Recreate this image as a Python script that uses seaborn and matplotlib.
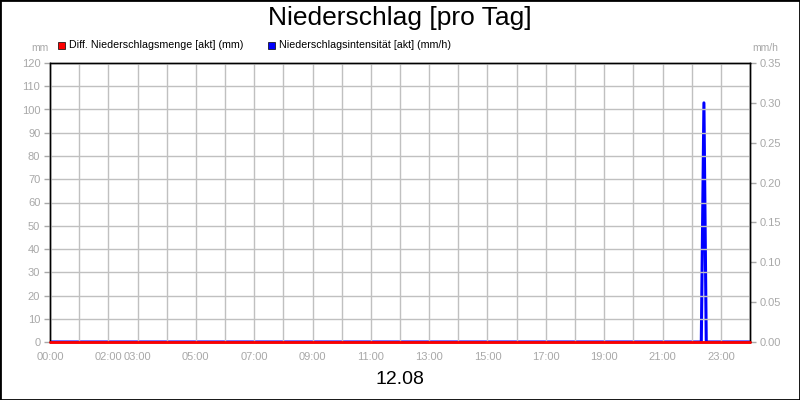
import numpy as np
import pandas as pd
import matplotlib
matplotlib.use("Agg")
import matplotlib.pyplot as plt
from matplotlib.patches import Rectangle
import seaborn as sns

# data, time in hours of the day
menge_time = [0.0, 24.0]
menge_mm = [0.0, 0.0]
int_time = [0.0, 22.33, 22.42, 22.5, 24.0]
int_mmh = [0.0, 0.0, 0.30, 0.0, 0.0]
tick_hours = [0, 2, 3, 5, 7, 9, 11, 13, 15, 17, 19, 21, 23]
tick_labels = ["00:00", "02:00", "03:00", "05:00", "07:00", "09:00", "11:00",
               "13:00", "15:00", "17:00", "19:00", "21:00", "23:00"]

sns.set_style("white")
plt.rcParams['font.family'] = ['Liberation Sans', 'DejaVu Sans']

grey = "#a8a8a8"
fig = plt.figure(figsize=(8, 4), dpi=100)
ax = fig.add_axes([50/800, 58/400, 700/800, 279/400])
ax2 = ax.twinx()

df_i = pd.DataFrame({"t": int_time, "v": int_mmh})
df_m = pd.DataFrame({"t": menge_time, "v": menge_mm})
sns.lineplot(data=df_i, x="t", y="v", ax=ax2, color="#0000ff", lw=2.2, zorder=2)
sns.lineplot(data=df_m, x="t", y="v", ax=ax, color="#ff0000", lw=2, zorder=3)
ax.lines[-1].set_clip_on(False)
ax.set_zorder(ax2.get_zorder() + 1)
ax.patch.set_visible(False)

ax.set_xlim(0, 24)
ax.set_ylim(0, 120)
ax2.set_ylim(0, 0.35)
ax.set_yticks(range(0, 121, 10))
ax2.set_yticks(np.arange(0, 0.351, 0.05))
ax2.set_yticklabels([f"{v:.2f}" for v in np.arange(0, 0.351, 0.05)])
ax.set_xticks(range(0, 25))
ax.set_xticklabels([tick_labels[tick_hours.index(h)] if h in tick_hours else "" for h in range(25)])
ax.grid(True, color="#c0c0c0", lw=1)
ax.set_axisbelow(True)
for a in (ax, ax2):
    a.set_xlabel("")
    a.set_ylabel("")
    a.tick_params(colors=grey, labelsize=8, length=4, width=1, direction="out", pad=3)
    for s in a.spines.values():
        s.set_color("black")
        s.set_linewidth(1)
ax.tick_params(axis="y", labelcolor=grey)
ax.tick_params(axis="x", labelcolor=grey)

fig.text(0.5, 1 - 18/400, "Niederschlag [pro Tag]", ha="center", va="center", fontsize=19, color="black")
fig.text(0.5, 1 - 380/400, "12.08", ha="center", va="center", fontsize=14, color="black")
fig.text(40/800, 1 - 48/400, "mm", ha="center", va="center", fontsize=7.5, color=grey)
fig.text(765/800, 1 - 48/400, "mm/h", ha="center", va="center", fontsize=7.5, color=grey)

# legend
for x0, col, lab in [(58, "#ff0000", "Diff. Niederschlagsmenge [akt] (mm)"),
                     (268, "#0000ff", "Niederschlagsintensität [akt] (mm/h)")]:
    fig.patches.append(Rectangle((x0/800, 1 - 49/400), 7/800, 7/400, facecolor=col,
                                 edgecolor="black", lw=0.5, transform=fig.transFigure))
    fig.text((x0 + 11)/800, 1 - 45/400, lab, ha="left", va="center", fontsize=7.7, color="black")

fig.patches.append(Rectangle((0, 0), 1, 1, fill=False, edgecolor="black", lw=2,
                             transform=fig.transFigure))
fig.savefig("out.png", dpi=100)
